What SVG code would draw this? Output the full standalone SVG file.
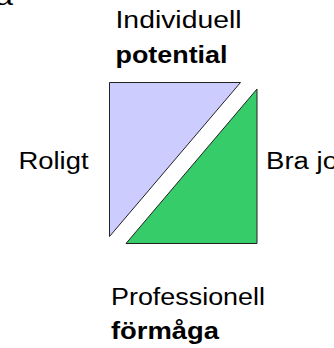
<svg xmlns="http://www.w3.org/2000/svg" width="334" height="348" viewBox="0 0 334 348">
<style>
text{font-family:"Liberation Sans",Arial,sans-serif;font-size:23px;fill:#000}
.b{font-weight:bold}
.tri{stroke:#222;stroke-width:1}
</style>
<rect width="334" height="348" fill="#fff"/>
<g id="labels">
<text x="-5" y="5" textLength="18" lengthAdjust="spacingAndGlyphs">a</text>
<text x="115.5" y="28" textLength="126" lengthAdjust="spacingAndGlyphs">Individuell</text>
<text class="b" x="115.5" y="63" textLength="112" lengthAdjust="spacingAndGlyphs">potential</text>
<text x="18.5" y="169" textLength="70" lengthAdjust="spacingAndGlyphs">Roligt</text>
<text x="266" y="169" textLength="72" lengthAdjust="spacingAndGlyphs">Bra jo</text>
<text x="111" y="304.5" textLength="154" lengthAdjust="spacingAndGlyphs">Professionell</text>
<text class="b" x="111" y="339" textLength="108" lengthAdjust="spacingAndGlyphs">förmåga</text>
</g>
<g id="blue-triangle">
<polygon class="tri" points="109.5,82.5 240.5,82.5 109.5,236.5" fill="#ccccff"/>
</g>
<g id="green-triangle">
<polygon class="tri" points="257,89 257,243.5 126,243.5" fill="#36cc6a"/>
</g>
<g id="connectors"></g>
</svg>
